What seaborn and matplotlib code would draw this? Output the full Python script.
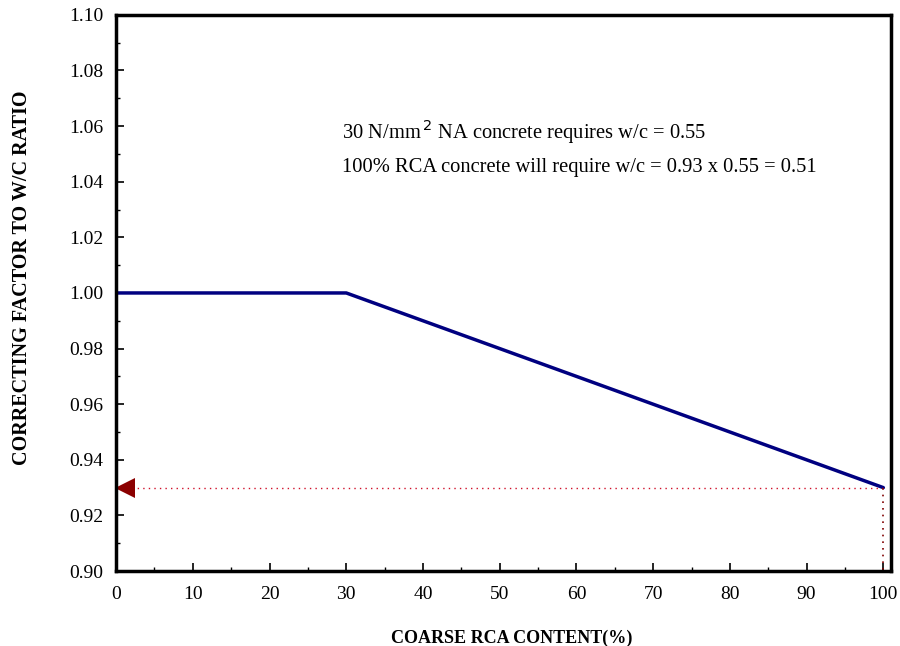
import numpy as np
import pandas as pd
import matplotlib
matplotlib.use('Agg')
import matplotlib.pyplot as plt
import seaborn as sns
from matplotlib.ticker import MultipleLocator, FormatStrFormatter

# data
rca_content = [0, 30, 100]
correcting_factor = [1.00, 1.00, 0.93]
target_factor = 0.93
target_content = 100

sns.set_style('white')
plt.rcParams['font.family'] = ['Liberation Serif', 'DejaVu Serif']
plt.rcParams['text.color'] = 'black'
plt.rcParams['axes.labelcolor'] = 'black'
plt.rcParams['xtick.color'] = 'black'
plt.rcParams['ytick.color'] = 'black'

df = pd.DataFrame({'rca': rca_content, 'factor': correcting_factor})

fig, ax = plt.subplots(figsize=(9, 6.46), dpi=100)
fig.subplots_adjust(left=0.129, right=0.990, top=0.977, bottom=0.116)

sns.lineplot(data=df, x='rca', y='factor', color='#000080', linewidth=2.5, ax=ax)

# dotted guides to the y axis and down to the x axis
ax.plot([target_content, 2.2], [target_factor, target_factor], linestyle=(0, (1, 3)),
        color='#d0102a', linewidth=1.0)
ax.plot([target_content, target_content], [target_factor, 0.90], linestyle=(0, (1, 3)),
        color='#800000', linewidth=1.2)
ax.plot([1.2], [target_factor], marker='<', markersize=15, color='#8b0000',
        markeredgewidth=0, clip_on=False)

ax.text(29.5, 1.058, r'30 N/mm$^{\,2}$ NA concrete requires w/c = 0.55',
        fontsize=14.8, va='center', ha='left')
ax.text(29.5, 1.045, '100% RCA concrete will require w/c = 0.93 x 0.55 = 0.51',
        fontsize=14.8, va='center', ha='left')

ax.set_xlim(0, 101)
ax.set_ylim(0.90, 1.10)
ax.xaxis.set_major_locator(MultipleLocator(10))
ax.xaxis.set_minor_locator(MultipleLocator(5))
ax.yaxis.set_major_locator(MultipleLocator(0.02))
ax.yaxis.set_minor_locator(MultipleLocator(0.01))
ax.yaxis.set_major_formatter(FormatStrFormatter('%.2f'))
ax.tick_params(which='major', direction='in', length=6, width=1.2, labelsize=14,
               bottom=True, left=True)
ax.tick_params(axis='x', which='major', pad=11)
ax.tick_params(axis='y', which='major', pad=9)
ax.tick_params(which='minor', direction='in', length=3, width=1.0, bottom=True, left=True)

for s in ax.spines.values():
    s.set_linewidth(2.5)
    s.set_color('black')

ax.set_xlabel('COARSE RCA CONTENT(%)', fontsize=13, fontweight='bold', labelpad=19)
ax.set_ylabel('CORRECTING FACTOR TO W/C RATIO', fontsize=14.5, fontweight='bold', labelpad=27)
ax.xaxis.label.set_x(0.51)
ax.yaxis.label.set_y(0.527)

fig.savefig('out.png', dpi=100)
